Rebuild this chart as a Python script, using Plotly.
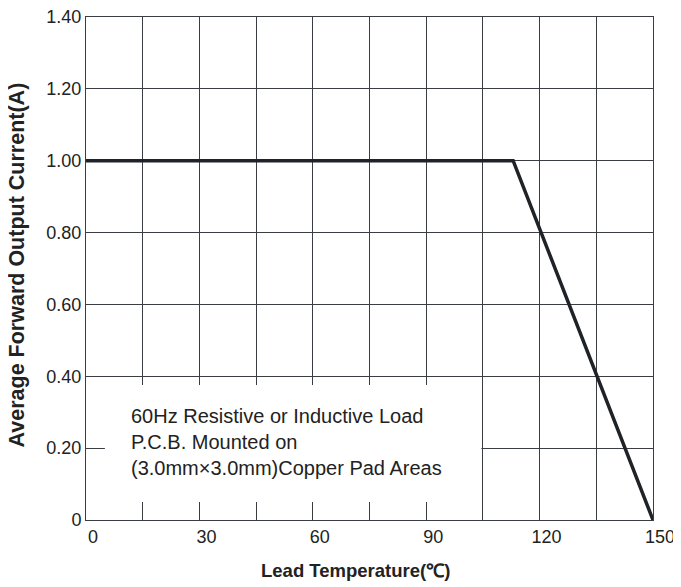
import plotly.graph_objects as go

# Data
temps = [0, 113, 150]
current = [1.0, 1.0, 0.0]

x_tickvals = [0, 15, 30, 45, 60, 75, 90, 105, 120, 135, 150]
x_ticktext = ["0", "", "30", "", "60", "", "90", "", "120", "", "150"]
y_tickvals = [0, 0.2, 0.4, 0.6, 0.8, 1.0, 1.2, 1.4]
y_ticktext = ["0", "0.20", "0.40", "0.60", "0.80", "1.00", "1.20", "1.40"]

note_lines = ["60Hz Resistive or Inductive Load",
              "P.C.B. Mounted on",
              "(3.0mm×3.0mm)Copper Pad Areas"]
x_title = "Lead Temperature(℃)"
y_title = "Average Forward Output Current(A)"

FONT = "Liberation Sans, Arial, sans-serif"
GRID = "#3a3d42"
TXT = "#222222"

fig = go.Figure()
fig.add_trace(go.Scatter(x=temps, y=current, mode="lines",
                         line=dict(color="#1f2328", width=3.5),
                         showlegend=False, hoverinfo="skip"))

# white box behind the note (covers grid)
fig.add_shape(type="rect", xref="x", yref="y", x0=5, x1=104.6, y0=0.05, y1=0.376,
              fillcolor="white", line=dict(width=0), layer="above")

fig.add_annotation(x=11.4, y=0.217, xref="x", yref="y", xanchor="left", yanchor="middle",
                   text="<br>".join(note_lines), align="left", showarrow=False,
                   font=dict(family=FONT, size=20, color=TXT))

fig.add_annotation(x=0.476, y=-0.101, xref="paper", yref="paper", xanchor="center",
                   yanchor="middle", text="<b>" + x_title + "</b>", showarrow=False,
                   font=dict(family=FONT, size=18.5, color=TXT))
fig.add_annotation(x=-0.12, y=0.508, xref="paper", yref="paper", xanchor="center",
                   yanchor="middle", text="<b>" + y_title + "</b>", showarrow=False,
                   textangle=-90, font=dict(family=FONT, size=21.5, color=TXT))

fig.update_layout(
    width=673, height=579,
    margin=dict(l=78, r=28, t=9, b=67),
    paper_bgcolor="white", plot_bgcolor="white",
    font=dict(family=FONT, color=TXT),
)
fig.update_xaxes(range=[0, 150], tickvals=x_tickvals, ticktext=x_ticktext,
                 showgrid=True, gridcolor=GRID, gridwidth=1, zeroline=False,
                 showline=True, linecolor=GRID, linewidth=1, mirror=True,
                 ticks="", ticklabelshift=7, automargin=False,
                 ticklabeloverflow="allow",
                 tickfont=dict(family=FONT, size=18, color=TXT))
fig.update_yaxes(range=[0, 1.4], tickvals=y_tickvals, ticktext=y_ticktext,
                 showgrid=True, gridcolor=GRID, gridwidth=1, zeroline=False,
                 showline=True, linecolor=GRID, linewidth=1, mirror=True,
                 ticks="", automargin=False,
                 ticklabeloverflow="allow",
                 tickfont=dict(family=FONT, size=18, color=TXT))

fig.write_html("out.html")
